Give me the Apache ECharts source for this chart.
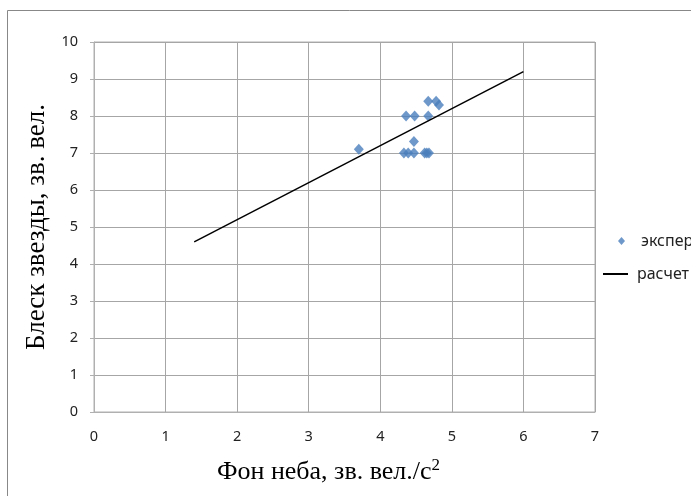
<!DOCTYPE html>
<html>
<head>
<meta charset="utf-8">
<script src="https://cdn.jsdelivr.net/npm/echarts@6/dist/echarts.min.js"></script>
<style>html,body{margin:0;padding:0;background:#fff}#c{width:691px;height:496px}</style>
</head>
<body>
<div id="c"></div>
<script>
// Data
const xTicks = [0, 1, 2, 3, 4, 5, 6, 7];
const yTicks = [0, 1, 2, 3, 4, 5, 6, 7, 8, 9, 10];
const expX = [3.70, 4.33, 4.39, 4.47, 4.62, 4.65, 4.68, 4.47, 4.36, 4.48, 4.67, 4.67, 4.78, 4.82];
const expY = [7.10, 7.00, 7.00, 7.00, 7.00, 7.00, 7.00, 7.31, 8.00, 8.00, 8.00, 8.40, 8.40, 8.30];
const calcX = [1.4, 6.0];
const calcY = [4.6, 9.2];
const seriesNames = ['экспер', 'расчет'];

const SANS = "'Noto Sans', sans-serif";
const chart = echarts.init(document.getElementById('c'), null, {renderer: 'canvas'});
const tickFont = {fontFamily: SANS, fontSize: 14.5, color: '#222'};
chart.setOption({
  animation: false,
  backgroundColor: '#fff',
  graphic: [{
    type: 'rect', silent: true, z: -1,
    shape: {x: 7.5, y: 10.5, width: 720, height: 520},
    style: {fill: 'none', stroke: '#888', lineWidth: 1}
  }],
  grid: {left: 94, top: 42, right: 96, bottom: 84, show: true, borderColor: '#b0b0b0', borderWidth: 1},
  legend: [{
    data: [{name: seriesNames[0], icon: 'diamond'}],
    left: 613, top: 228, itemWidth: 7, itemHeight: 8,
    textStyle: {fontFamily: SANS, fontSize: 16, color: '#222', padding: [0, 0, 0, 11]}
  }, {
    data: [{name: seriesNames[1], icon: 'rect'}],
    left: 598, top: 261, itemWidth: 25, itemHeight: 2,
    textStyle: {fontFamily: SANS, fontSize: 16, color: '#222', padding: [0, 0, 0, 4]}
  }],
  xAxis: {
    type: 'value', min: xTicks[0], max: xTicks[xTicks.length - 1], interval: 1,
    name: 'Фон неба, зв. вел./с{sup|2}',
    nameLocation: 'middle', nameGap: 45,
    nameTextStyle: {fontFamily: 'Liberation Serif', fontSize: 26, color: '#000', padding: [0, 32, 0, 0],
      rich: {sup: {fontFamily: 'Liberation Serif', fontSize: 17, color: '#000', verticalAlign: 'top', padding: [0, 0, 14, 0]}}},
    axisLine: {show: true, lineStyle: {color: '#b0b0b0'}},
    axisTick: {show: false},
    axisLabel: Object.assign({margin: 17}, tickFont),
    splitLine: {show: true, lineStyle: {color: '#a6a6a6', width: 1}}
  },
  yAxis: {
    type: 'value', min: yTicks[0], max: yTicks[yTicks.length - 1], interval: 1,
    name: 'Блеск звезды, зв. вел.',
    nameLocation: 'middle', nameGap: 44,
    nameTextStyle: {fontFamily: 'Liberation Serif', fontSize: 27, color: '#000'},
    axisLine: {show: true, lineStyle: {color: '#b0b0b0'}},
    axisTick: {show: true, length: 4, inside: false, lineStyle: {color: '#b0b0b0'}},
    axisLabel: Object.assign({margin: 16}, tickFont),
    splitLine: {show: true, lineStyle: {color: '#a6a6a6', width: 1}}
  },
  series: [{
    name: seriesNames[0], type: 'scatter', symbol: 'diamond', symbolSize: [10, 11],
    itemStyle: {color: '#4a7ebb'},
    data: expX.map((x, i) => [x, expY[i]])
  }, {
    name: seriesNames[1], type: 'line', symbol: 'none',
    lineStyle: {color: '#000', width: 1.5},
    itemStyle: {color: '#000'},
    data: calcX.map((x, i) => [x, calcY[i]])
  }]
});
</script>
</body>
</html>
